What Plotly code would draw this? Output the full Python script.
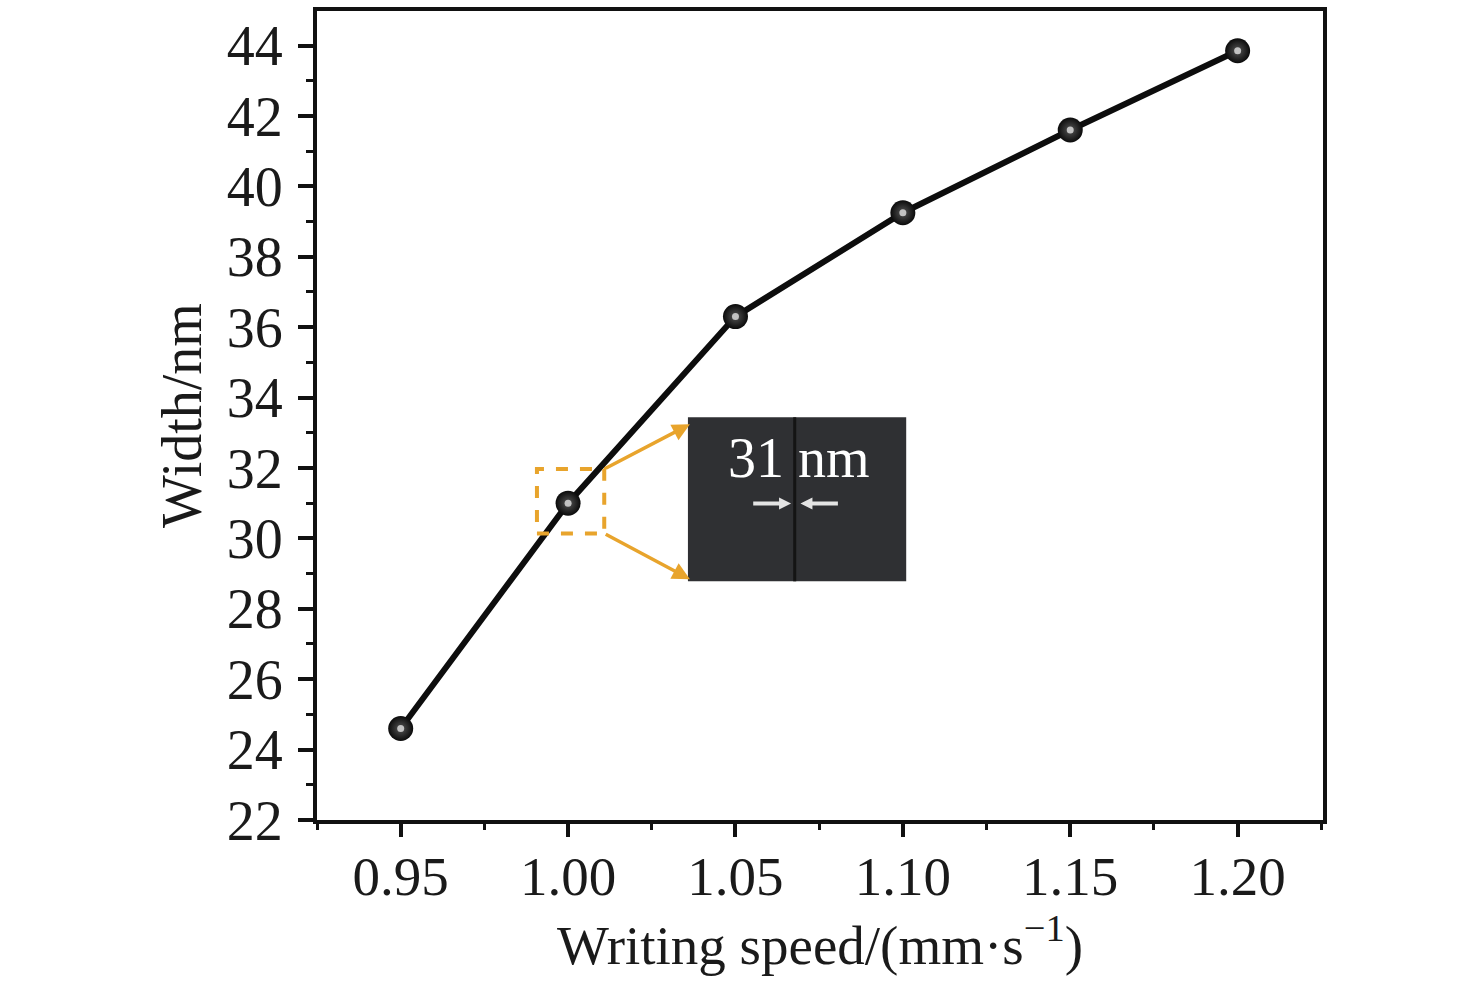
import plotly.graph_objects as go

speed = [0.95, 1.00, 1.05, 1.10, 1.15, 1.20]
width_nm = [24.6, 31.0, 36.3, 39.25, 41.6, 43.85]
x_ticks = [0.95, 1.00, 1.05, 1.10, 1.15, 1.20]
x_tick_text = ["0.95", "1.00", "1.05", "1.10", "1.15", "1.20"]
y_ticks = [22, 24, 26, 28, 30, 32, 34, 36, 38, 40, 42, 44]
inset_label = "31 nm"

FONT = "Liberation Serif"
ORANGE = "#E8A42C"
INK = "#1a1a1a"

fig = go.Figure()
fig.add_trace(go.Scatter(
    x=speed, y=width_nm, mode="lines+markers",
    line=dict(color="#0d0d0d", width=6),
    marker=dict(size=25, color="#0a0a0a",
                gradient=dict(type="radial", color="#555555"),
                line=dict(width=0)),
    showlegend=False, hoverinfo="skip",
))
# specular highlight on each sphere marker
fig.add_trace(go.Scatter(
    x=speed, y=width_nm, mode="markers",
    marker=dict(size=7, color="#cfcfcf", line=dict(width=0), opacity=0.9),
    showlegend=False, hoverinfo="skip",
))

# inset panel (SEM image stand-in)
ix0, ix1, iy0, iy1 = 1.0358, 1.1010, 28.78, 33.44
shapes = [
    dict(type="rect", xref="x", yref="y", x0=ix0, x1=ix1, y0=iy0, y1=iy1,
         fillcolor="#2f3033", line=dict(width=0), layer="above"),
    dict(type="line", xref="x", yref="y", x0=1.0677, x1=1.0677, y0=iy0, y1=iy1,
         line=dict(color="#141414", width=3), layer="above"),
    # dashed selection box around the 1.00 point
    dict(type="rect", xref="x", yref="y", x0=0.9907, x1=1.0108, y0=30.14, y1=31.97,
         line=dict(color=ORANGE, width=4, dash="dash"), layer="above"),
    # white measurement bars
    dict(type="line", xref="x", yref="y", x0=1.0553, x1=1.0650, y0=30.99, y1=30.99,
         line=dict(color="#e4e4e4", width=4), layer="above"),
    dict(type="line", xref="x", yref="y", x0=1.0710, x1=1.0806, y0=30.99, y1=30.99,
         line=dict(color="#e4e4e4", width=4), layer="above"),
]

annotations = [
    dict(x=1.0364, y=33.24, ax=1.0108, ay=31.97, xref="x", yref="y",
         axref="x", ayref="y", showarrow=True, arrowhead=2, arrowsize=1.0,
         arrowwidth=3.5, arrowcolor=ORANGE, text=" ",
         font=dict(size=1)),
    dict(x=1.0364, y=28.84, ax=1.0108, ay=30.14, xref="x", yref="y",
         axref="x", ayref="y", showarrow=True, arrowhead=2, arrowsize=1.0,
         arrowwidth=3.5, arrowcolor=ORANGE, text=" ",
         font=dict(size=1)),
    dict(x=1.0690, y=32.27, xref="x", yref="y", text=inset_label, showarrow=False,
         font=dict(family=FONT, size=56, color="white")),
    dict(x=1.0666, y=30.99, ax=1.0620, ay=30.99, xref="x", yref="y",
         axref="x", ayref="y", showarrow=True, arrowhead=2, arrowsize=0.8,
         arrowwidth=3, arrowcolor="#e4e4e4", text=" ", font=dict(size=1)),
    dict(x=1.0694, y=30.99, ax=1.0740, ay=30.99, xref="x", yref="y",
         axref="x", ayref="y", showarrow=True, arrowhead=2, arrowsize=0.8,
         arrowwidth=3, arrowcolor="#e4e4e4", text=" ", font=dict(size=1)),
]

fig.update_layout(
    width=1476, height=981,
    margin=dict(l=317, r=153, t=7, b=161),
    paper_bgcolor="white", plot_bgcolor="white",
    font=dict(family=FONT, color=INK),
    shapes=shapes, annotations=annotations,
)
fig.update_xaxes(
    range=[0.925, 1.2255], tickvals=x_ticks, ticktext=x_tick_text,
    ticks="outside", ticklen=13, tickwidth=4, tickcolor="#111",
    ticklabelstandoff=-8,
    minor=dict(dtick=0.025, tick0=0.925, ticks="outside", ticklen=6,
               tickwidth=3, tickcolor="#111"),
    showline=True, linecolor="#111", linewidth=4, mirror=True,
    showgrid=False, zeroline=False,
    tickfont=dict(family=FONT, size=55, color=INK),
    title=dict(text="Writing speed/(mm·s<sup>−1</sup>)", standoff=14,
               font=dict(family=FONT, size=55, color=INK)),
)
fig.update_yaxes(
    range=[22, 44.98], tickvals=y_ticks,
    ticks="outside", ticklen=15, tickwidth=4, tickcolor="#111",
    ticklabelstandoff=4,
    minor=dict(dtick=2, tick0=23, ticks="outside", ticklen=7,
               tickwidth=3, tickcolor="#111"),
    showline=True, linecolor="#111", linewidth=4, mirror=True,
    showgrid=False, zeroline=False,
    tickfont=dict(family=FONT, size=56, color=INK),
    title=dict(text="Width/nm", standoff=8,
               font=dict(family=FONT, size=56, color=INK)),
)

fig.write_html("out.html", config={"displayModeBar": False},
               post_script="document.body.style.margin='0';")
